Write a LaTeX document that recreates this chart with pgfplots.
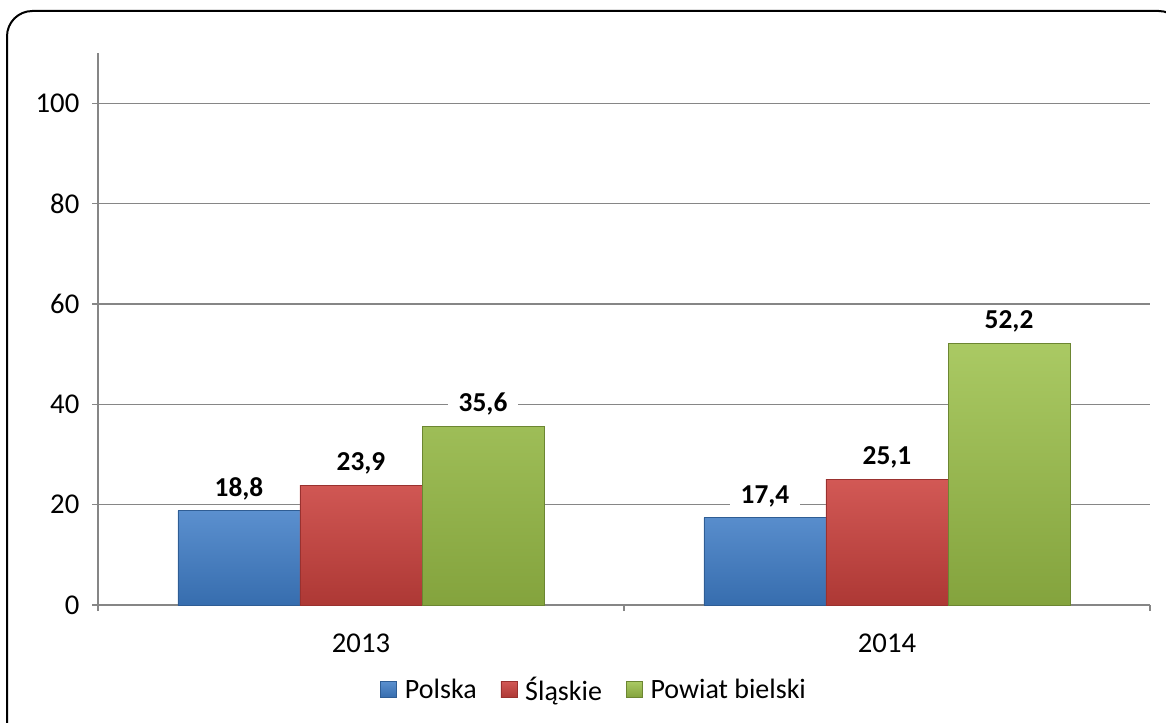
\documentclass[border=0pt]{standalone}
\usepackage{pgfplots}
\pgfplotsset{compat=1.18}
\usepackage{fontspec}
\setmainfont{Carlito}
\definecolor{cblue}{RGB}{62,124,198}
\definecolor{cred}{RGB}{204,66,62}
\definecolor{cgreen}{RGB}{155,192,72}
\definecolor{gridgray}{RGB}{134,134,134}
\begin{document}
\begin{tikzpicture}
\clip (0,0) rectangle (874.5pt,541.5pt);
\useasboundingbox (0,0) rectangle (874.5pt,541.5pt);
\draw[line width=1.5pt, rounded corners=19pt] (5.25pt,533.25pt) rectangle (888pt,-18pt);
\begin{axis}[
  at={(73.5pt,87.75pt)}, anchor=south west,
  scale only axis, width=789pt, height=414pt,
  xmin=-0.5, xmax=1.5, ymin=0, ymax=110,
  ybar=0pt, bar width=0.232,
  axis x line*=bottom, axis y line*=left,
  axis line style={gridgray, line width=0.9pt},
  every tick/.style={gridgray, line width=0.9pt},
  tick align=outside, major tick length=4.5pt,
  ytick={0,20,40,60,80,100},
  ymajorgrids, grid style={gridgray, line width=0.9pt},
  xtick={-0.5,0.5,1.5}, xticklabels={},
  extra x ticks={0,1}, extra x tick labels={2013,2014},
  extra x tick style={major tick length=0pt, xmajorgrids=false},
  xticklabel style={yshift=-18pt},
  yticklabel style={xshift=-6pt},
  tick label style={font=\fontsize{21.5}{25}\selectfont},
  /pgf/number format/assume math mode=true,
  nodes near coords,
  point meta=explicit symbolic,
  every node near coord/.append style={font=\fontsize{20.5}{24}\selectfont\bfseries, fill=white, inner xsep=8pt, inner ysep=3pt, anchor=south, yshift=5pt, text=black},
  legend style={at={(0.472,-0.154)}, anchor=center, draw=none, legend columns=-1,
    font=\fontsize{21}{25}\selectfont,
    /tikz/every odd column/.append style={column sep=4pt},
    /tikz/every even column/.append style={column sep=16pt}},
  legend image code/.code={\fill[#1] (0pt,-5.5pt) rectangle (12pt,6.5pt);},
]
\addplot[top color=cblue!85!white, bottom color=cblue!88!black, draw=cblue!75!black] coordinates {(0,18.8) [18,8] (1,17.4) [17,4]};
\addplot[top color=cred!88!white, bottom color=cred!85!black, draw=cred!75!black] coordinates {(0,23.9) [23,9] (1,25.1) [25,1]};
\addplot[top color=cgreen!85!white, bottom color=cgreen!85!black, draw=cgreen!70!black] coordinates {(0,35.6) [35,6] (1,52.2) [52,2]};
\legend{Polska, Śląskie, Powiat bielski}
\end{axis}
\end{tikzpicture}
\end{document}
